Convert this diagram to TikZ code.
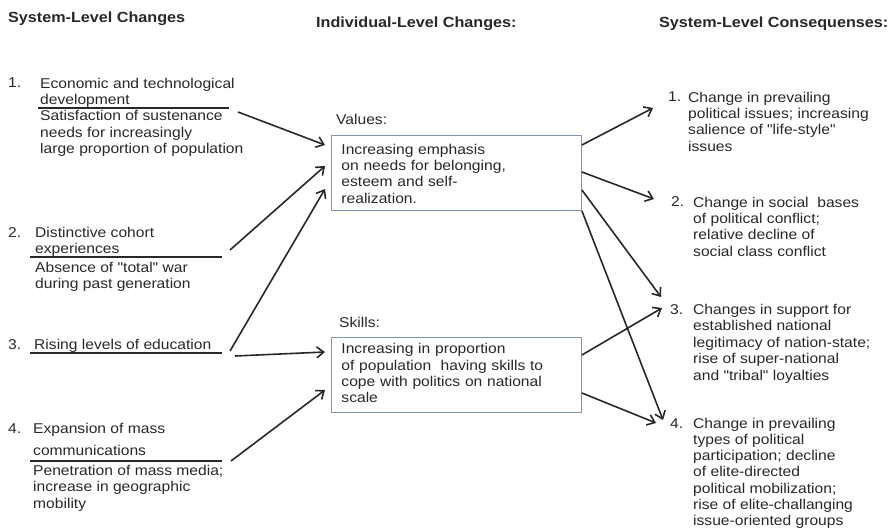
\documentclass[tikz,border=0pt]{standalone}
\usepackage{fontspec}
\setmainfont[FakeStretch=1.1,Ligatures=TeXOff]{Liberation Sans}
\usetikzlibrary{positioning,calc,arrows.meta}
\definecolor{txtgray}{RGB}{40,40,40}
\definecolor{boxline}{RGB}{125,150,180}
\tikzset{lvlhead/.style={anchor=base west, inner sep=0, text=txtgray, font=\fontsize{14.7}{17}\selectfont\bfseries}}
\tikzset{numtxt/.style={anchor=base west, inner sep=0, text=txtgray, font=\fontsize{14.2}{16.3}\selectfont}}
\tikzset{itemtxt/.style={anchor=north west, inner sep=0, align=left, text=txtgray, font=\fontsize{14.2}{#1}\selectfont}, itemtxt/.default=16.3}
\tikzset{ibox/.style={draw=boxline, line width=0.9pt, anchor=north west, align=left, text width=230pt, inner xsep=10pt, inner ysep=0pt, minimum width=250pt, minimum height=75pt, text=txtgray, font=\fontsize{14.2}{16.3}\selectfont}}
\tikzset{rule/.style={draw=txtgray, line width=1.3pt}}
\tikzset{arr/.style={draw=txtgray, line width=1.6pt, -{Straight Barb[length=7pt,width=11pt]}}}

\begin{document}
\begin{tikzpicture}[x=1pt, y=-1pt]
	\useasboundingbox (0,0) rectangle (890,529);
	% column heads
	\node[lvlhead] (hsys) at (8,23) {System-Level Changes};
	\node[lvlhead] (hind) at (316,28) {Individual-Level Changes:};
	\node[lvlhead] (hcon) at (659,28) {System-Level Consequenses:};

	% system-level changes
	\node[numtxt] (n1) at (8,88) {1.};
	\node[itemtxt] (t1) at (40,76.6) {\strut Economic and technological\\development\\Satisfaction of sustenance\\needs for increasingly\\large proportion of population};
	\draw[rule] (38,108) -- (229,108);
	\node[numtxt] (n2) at (8,237) {2.};
	\node[itemtxt] (t2) at (35,225.6) {\strut Distinctive cohort\\experiences\\[2.5pt]Absence of "total" war\\during past generation};
	\draw[rule] (30,257) -- (222,257);
	\node[numtxt] (n3) at (8,349) {3.};
	\node[itemtxt] (t3) at (34,337.6) {\strut Rising levels of education};
	\draw[rule] (30,353) -- (222,353);
	\node[numtxt] (n4) at (8,433) {4.};
	\node[itemtxt=16.5] (t4) at (33,421.45) {\strut Expansion of mass\\[5.5pt]communications\\[3.5pt]Penetration of mass media;\\increase in geographic\\mobility};
	\draw[rule] (30,461) -- (222,461);

	% individual-level changes
	\node[numtxt] (lval) at (336,125) {Values:};
	\node[ibox] (vals) at (331,135) {\strut Increasing emphasis\\on needs for belonging,\\esteem and self-\\realization.};
	\node[numtxt] (lskl) at (339,327) {Skills:};
	\node[ibox] (skls) at (331,337) {\strut Increasing in proportion\\of population\ \ having skills to\\cope with politics on national\\scale\strut};

	% system-level consequences
	\node[numtxt] (m1) at (668,102) {1.};
	\node[itemtxt] (c1) at (688,90.6) {\strut Change in prevailing\\political issues; increasing\\salience of "life-style"\\issues};
	\node[numtxt] (m2) at (671,207) {2.};
	\node[itemtxt] (c2) at (693,195.6) {\strut Change in social\ \ bases\\of political conflict;\\relative decline of\\social class conflict};
	\node[numtxt] (m3) at (670,314) {3.};
	\node[itemtxt=16.5] (c3) at (693,302.45) {\strut Changes in support for\\established national\\legitimacy of nation-state;\\rise of super-national\\and "tribal" loyalties};
	\node[numtxt] (m4) at (670,428) {4.};
	\node[itemtxt=16.2] (c4) at (693,416.66) {\strut Change in prevailing\\types of political\\participation; decline\\of elite-directed\\political mobilization;\\rise of elite-challanging\\issue-oriented groups};

	% arrow ends
	\coordinate (o1) at (238,112);
	\coordinate (o2) at (230,250);
	\coordinate (o3a) at (230,351);
	\coordinate (o3b) at (235,356);
	\coordinate (o4) at (231,461);
	\coordinate (i1) at (653,108);
	\coordinate (i2) at (654,199);
	\coordinate (i3a) at (661,297);
	\coordinate (i3b) at (662,308);
	\coordinate (i4a) at (663,420);
	\coordinate (i4b) at (656,423);

	\draw[arr] (o1) -- ($(vals.north west)+(-6,10)$);
	\draw[arr] (o2) -- ($(vals.north west)+(-6,31)$);
	\draw[arr] (o3a) -- ($(vals.north west)+(-6,54)$);
	\draw[arr] (o3b) -- ($(skls.north west)+(-6,15)$);
	\draw[arr] (o4) -- ($(skls.north west)+(-6,53)$);
	\draw[arr] ($(vals.north east)+(0,10)$) -- (i1);
	\draw[arr] ($(vals.north east)+(0,37)$) -- (i2);
	\draw[arr] ($(vals.north east)+(0,55)$) -- (i3a);
	\draw[arr] (vals.south east) -- (i4a);
	\draw[arr] ($(skls.north east)+(0,18)$) -- (i3b);
	\draw[arr] ($(skls.north east)+(0,56)$) -- (i4b);
\end{tikzpicture}
\end{document}
